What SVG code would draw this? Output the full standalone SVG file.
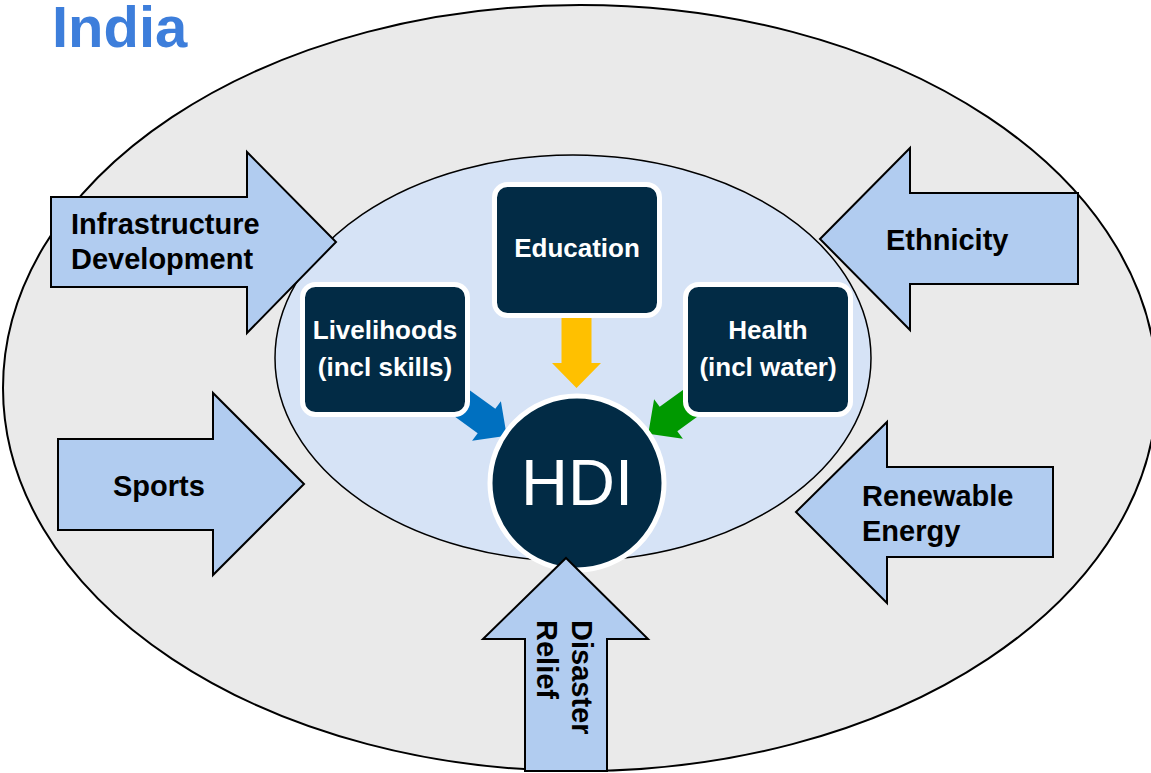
<svg xmlns="http://www.w3.org/2000/svg" width="1151" height="773" viewBox="0 0 1151 773">
<style>
.big{fill:#B1CCF0;stroke:#000;stroke-width:2;stroke-linejoin:miter}
.lbl{font-family:"Liberation Sans",Arial,sans-serif;font-weight:bold;font-size:29px;fill:#000}
.box{fill:#022B45;stroke:#fff;stroke-width:5}
.btxt{font-family:"Liberation Sans",Arial,sans-serif;font-weight:bold;font-size:26px;fill:#fff;text-anchor:middle}
</style>
<defs>
<path id="sarrow" d="M-45,-15 L0,-15 L0,-24.5 L25,0 L0,24.5 L0,15 L-45,15 Z"/>
</defs>
<rect width="1151" height="773" fill="#fff"/>
<text x="52" y="47" font-family="Liberation Sans,Arial,sans-serif" font-weight="bold" font-size="58" fill="#3D7EDB">India</text>
<g id="outer-ellipse">
<ellipse cx="580" cy="388" rx="577" ry="383" fill="#EAEAEA" stroke="#000" stroke-width="2"/>
</g>
<g id="inner-ellipse">
<ellipse cx="573" cy="358" rx="298" ry="203" fill="#D6E3F6" stroke="#000" stroke-width="1.5"/>
</g>
<g id="infrastructure">
<polygon class="big" points="51,197 247,197 247,152 336,242 247,333 247,287 51,287"/>
<text class="lbl" x="71" y="234">Infrastructure</text>
<text class="lbl" x="71" y="269">Development</text>
</g>
<g id="sports">
<polygon class="big" points="58,439 213,439 213,393 304,484 213,575 213,530 58,530"/>
<text class="lbl" x="113" y="496">Sports</text>
</g>
<g id="ethnicity">
<polygon class="big" points="820,239 910,148 910,193 1078,193 1078,284 910,284 910,330"/>
<text class="lbl" x="886" y="250">Ethnicity</text>
</g>
<g id="renewable">
<polygon class="big" points="796,512 887,422 887,467 1053,467 1053,557 887,557 887,603"/>
<text class="lbl" x="862" y="506">Renewable</text>
<text class="lbl" x="862" y="541">Energy</text>
</g>
<g id="connectors">
<use href="#sarrow" fill="#FFC000" transform="translate(576.5,363) rotate(90)"/>
<use href="#sarrow" fill="#0070C0" transform="translate(486.5,421) rotate(36)"/>
<use href="#sarrow" fill="#009900" transform="translate(668.5,419) rotate(144)"/>
</g>
<g id="education">
<rect class="box" x="494.5" y="184.5" width="165" height="131" rx="13"/>
<text class="btxt" x="577" y="257">Education</text>
</g>
<g id="livelihoods">
<rect class="box" x="302.5" y="284.5" width="165" height="130" rx="13"/>
<text class="btxt" x="385" y="339">Livelihoods</text>
<text class="btxt" x="385" y="376">(incl skills)</text>
</g>
<g id="health">
<rect class="box" x="685.5" y="284.5" width="165" height="130" rx="13"/>
<text class="btxt" x="768" y="339">Health</text>
<text class="btxt" x="768" y="376">(incl water)</text>
</g>
<g id="hdi">
<circle cx="577" cy="483" r="87" fill="#022B45" stroke="#fff" stroke-width="5"/>
<text x="577" y="505" font-family="Liberation Sans,Arial,sans-serif" font-size="65" fill="#fff" text-anchor="middle">HDI</text>
</g>
<g id="disaster">
<polygon class="big" points="566,558 648,639 607,639 607,771 525,771 525,639 483,639"/>
<text class="lbl" transform="translate(572,620) rotate(90)">Disaster<tspan x="0" dy="35">Relief</tspan></text>
</g>
</svg>
